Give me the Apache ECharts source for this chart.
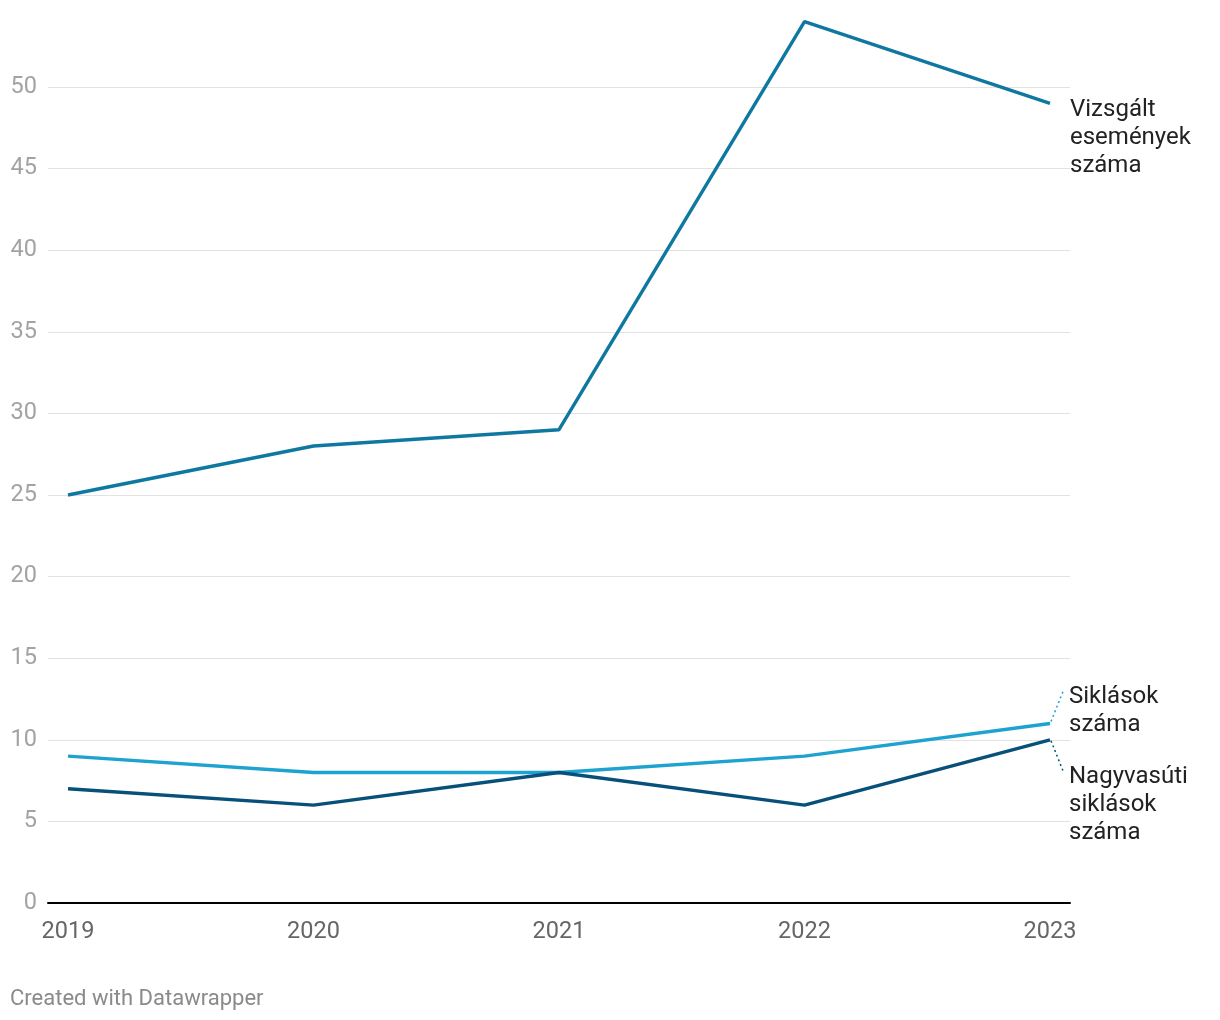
<!DOCTYPE html>
<html>
<head>
<meta charset="utf-8">
<script src="https://cdn.jsdelivr.net/npm/echarts@6/dist/echarts.min.js"></script>
<style>
html,body{margin:0;padding:0;background:#fff;}
#c{width:1220px;height:1020px;}
</style>
</head>
<body>
<div id="c"></div>
<script>
var years = [2019, 2020, 2021, 2022, 2023];
var vizsgalt = [25, 28, 29, 54, 49];
var siklasok = [9, 8, 8, 9, 11];
var nagyvasuti = [7, 6, 8, 6, 10];
var yTicks = [0, 5, 10, 15, 20, 25, 30, 35, 40, 45, 50];
var seriesNames = ['Vizsgált\nesemények\nszáma', 'Siklások\nszáma', 'Nagyvasúti\nsiklások\nszáma'];
var colors = ['#0f78a0', '#1ea2cf', '#07507a'];

var pad = 0.08147;
function pairs(v){ return years.map(function(y,i){ return [y, v[i]]; }); }

var chart = echarts.init(document.getElementById('c'));
var font = 'Roboto, "Noto Sans", sans-serif';
var option = {
  animation: false,
  grid: {left: 48, right: 150, top: 87, bottom: 117, containLabel: false},
  xAxis: {
    type: 'value', min: years[0] - pad, max: years[years.length-1] + pad,
    axisLine: {show: true, lineStyle: {color: '#000', width: 2}},
    axisTick: {show: false},
    splitLine: {show: false},
    axisLabel: {customValues: years, color: '#666', fontSize: 23.5, fontFamily: font, margin: 17,
      formatter: function(v){ return String(Math.round(v)); }}
  },
  yAxis: {
    type: 'value', min: yTicks[0], max: yTicks[yTicks.length-1], interval: 5,
    axisLine: {show: false}, axisTick: {show: false},
    splitLine: {lineStyle: {color: '#e2e2e2', width: 1}},
    axisLabel: {color: '#a3a3a3', fontSize: 23.5, fontFamily: font, margin: 11, padding: [2, 0, 0, 0]}
  },
  series: [
    {type: 'line', data: pairs(vizsgalt), symbol: 'none', clip: false, lineStyle: {color: colors[0], width: 3.4}, z: 3},
    {type: 'line', data: pairs(siklasok), symbol: 'none', clip: false, lineStyle: {color: colors[1], width: 3.4}, z: 2},
    {type: 'line', data: pairs(nagyvasuti), symbol: 'none', clip: false, lineStyle: {color: colors[2], width: 3.4}, z: 4}
  ]
};
chart.setOption(option);

var last = years.length - 1;
var p0 = chart.convertToPixel({gridIndex: 0}, [years[last], vizsgalt[last]]);
var p1 = chart.convertToPixel({gridIndex: 0}, [years[last], siklasok[last]]);
var p2 = chart.convertToPixel({gridIndex: 0}, [years[last], nagyvasuti[last]]);
var lblStyle = function(t, x, y){
  return {type: 'text', x: x, y: y, style: {text: t, fill: '#222', fontSize: 24, fontFamily: font, lineHeight: 28, verticalAlign: 'top', align: 'left'}, z: 10};
};
chart.setOption({
  graphic: [
    lblStyle(seriesNames[0], p0[0] + 20, p0[1] - 7),
    lblStyle(seriesNames[1], p1[0] + 19, p1[1] - 40),
    lblStyle(seriesNames[2], p2[0] + 19, p2[1] + 23),
    {type: 'line', shape: {x1: p1[0] + 1, y1: p1[1] - 2, x2: p1[0] + 13, y2: p1[1] - 32},
     style: {stroke: colors[1], lineWidth: 1.5, lineDash: [2, 3]}, z: 5},
    {type: 'line', shape: {x1: p2[0] + 1, y1: p2[1] + 1, x2: p2[0] + 13, y2: p2[1] + 31},
     style: {stroke: colors[2], lineWidth: 1.5, lineDash: [2, 3]}, z: 5},
    {type: 'text', left: 10, top: 988, style: {text: 'Created with Datawrapper', fill: '#8a8a8a', fontSize: 22, fontFamily: font}}
  ]
});
</script>
</body>
</html>
